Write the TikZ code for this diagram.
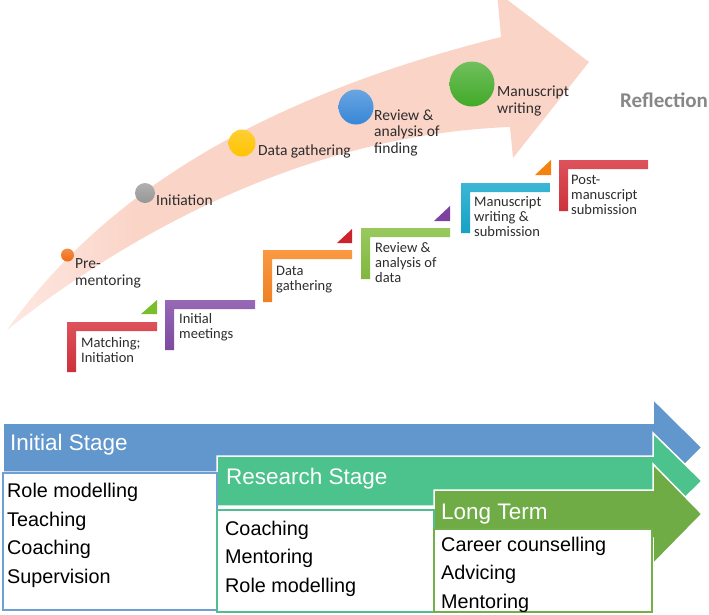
\documentclass[tikz,border=0pt]{standalone}
\usepackage{fontspec}
\setmainfont{Liberation Sans}
\newfontfamily\calfont{Carlito}
\definecolor{pinkA}{RGB}{251,212,200}
\definecolor{pinkL}{RGB}{253,232,225}
\definecolor{lblgray}{RGB}{45,45,45}
\definecolor{reflgray}{RGB}{135,135,135}
\definecolor{dotorange}{RGB}{240,105,15}
\definecolor{dotgray}{RGB}{150,150,150}
\definecolor{dotyellow}{RGB}{255,195,0}
\definecolor{dotblue}{RGB}{55,135,215}
\definecolor{dotgreen}{RGB}{65,170,40}
\definecolor{stred}{RGB}{215,52,62}
\definecolor{stpurple}{RGB}{132,78,168}
\definecolor{storange}{RGB}{250,135,35}
\definecolor{stgreen}{RGB}{135,192,65}
\definecolor{stcyan}{RGB}{25,170,205}
\definecolor{trgreen}{RGB}{120,190,45}
\definecolor{trred}{RGB}{205,35,45}
\definecolor{trpurple}{RGB}{125,65,160}
\definecolor{trorange}{RGB}{245,130,15}
\definecolor{arblue}{RGB}{97,151,204}
\definecolor{argreen}{RGB}{76,194,140}
\definecolor{arlong}{RGB}{111,172,70}
\definecolor{bxblue}{RGB}{110,160,212}
\definecolor{bxgreen}{RGB}{80,190,145}
\definecolor{bxlong}{RGB}{115,175,75}
\pgfdeclarehorizontalshading{pinkfade}{100bp}{color(0bp)=(pinkL); color(25bp)=(pinkL); color(36bp)=(pinkA); color(100bp)=(pinkA)}
\begin{document}
\begin{tikzpicture}[x=1pt,y=-1pt,
  dotnode/.style={circle, inner sep=0pt, minimum size=#1},
  toplbl/.style={font=\calfont\fontsize{15.5}{16.5}\selectfont, text=lblgray, align=left, anchor=base west, inner sep=0pt},
  steplbl/.style={font=\calfont\fontsize{14.5}{15}\selectfont, text=lblgray, align=left, anchor=base west, inner sep=0pt},
  stagetitle/.style={font=\fontsize{22.5}{25}\selectfont, text=white, anchor=base west, inner sep=0pt},
  listtxt/.style={font=\fontsize{19.8}{28.5}\selectfont, text=black, align=left, anchor=base west, inner sep=0pt},
  stagearrow/.style={fill=#1, draw=white, line width=1.5pt, line join=miter},
  listbox/.style={fill=white, draw=#1, line width=1.5pt}
]
\useasboundingbox (0,0) rectangle (709,614);
\clip (0,0) rectangle (709,614);

% curved pink arrow
\shade[shading=pinkfade] (7,330) .. controls (100,200) and (250,100) .. (501,37)
   -- (497,-8) -- (589,62) -- (513,158) -- (510,127)
   .. controls (300,135) and (120,240) .. (7,330) -- cycle;

% dots
\node[dotnode=13pt, top color=dotorange!75!white, bottom color=dotorange] (d1) at (67.5,255) {};
\node[dotnode=20pt, top color=dotgray!75!white, bottom color=dotgray] (d2) at (145,193) {};
\node[dotnode=27pt, top color=dotyellow!80!white, bottom color=dotyellow] (d3) at (242,143) {};
\node[dotnode=35pt, top color=dotblue!75!white, bottom color=dotblue] (d4) at (356,107) {};
\node[dotnode=45pt, top color=dotgreen!75!white, bottom color=dotgreen] (d5) at (472,84) {};

% labels along the arrow (anchored at the baseline of the last line)
\node[toplbl] (l1) at (75,285) {Pre-\\mentoring};
\node[toplbl] (l2) at (156,205) {Initiation};
\node[toplbl] (l3) at (258,155) {Data gathering};
\node[toplbl] (l4) at (374,153) {Review \&\\analysis of\\finding};
\node[toplbl] (l5) at (497,113) {Manuscript\\writing};
\node[font=\calfont\bfseries\fontsize{21}{23}\selectfont, text=reflgray, anchor=base west, inner sep=0pt] (refl) at (620,107) {Reflection};

% staircase
\foreach \xa/\ya/\xb/\yb/\c in {67/322/157/372/stred, 165/300/255/350/stpurple, 263/250/352/302/storange, 361/228/450/279/stgreen, 461/183/550/233/stcyan, 559/160/648/211/stred}{
  \shade[top color=\c!85!white, bottom color=\c!95!black] (\xa,\yb) -- (\xa,\ya) -- (\xb,\ya) -- (\xb,\ya+9) -- (\xa+9,\ya+9) -- (\xa+9,\yb) -- cycle;
}
\foreach \xa/\ya/\xb/\yb/\c in {141/300/157/314/trgreen, 337/229/352/243/trred, 434/206/450/221/trpurple, 535/160/551/175/trorange}{
  \fill[\c] (\xa,\yb) -- (\xb,\ya) -- (\xb,\yb) -- cycle;
}
\node[steplbl] (s1) at (81,362) {Matching;\\Initiation};
\node[steplbl] (s2) at (179,338) {Initial\\meetings};
\node[steplbl] (s3) at (276,290) {Data\\gathering};
\node[steplbl] (s4) at (375,282) {Review \&\\analysis of\\data};
\node[steplbl] (s5) at (474,236) {Manuscript\\writing \&\\submission};
\node[steplbl] (s6) at (571,214) {Post-\\manuscript\\submission};

% stage arrows
\path[stagearrow=arblue] (3,423) -- (653,423) -- (653,399) -- (702,447.5) -- (653,496) -- (653,472) -- (3,472) -- cycle;
\path[stagearrow=argreen] (217,456) -- (653,456) -- (653,433) -- (702,481) -- (653,529) -- (653,506) -- (217,506) -- cycle;
\path[stagearrow=arlong] (434,490) -- (653,490) -- (653,464) -- (702,514) -- (653,564) -- (653,538) -- (434,538) -- cycle;

% list boxes
\path[listbox=bxblue] (3,473) rectangle (217,610);
\path[listbox=bxgreen] (217,510) rectangle (434,612);
\path[listbox=bxlong] (434,529) rectangle (652,612);

\node[stagetitle] (t1) at (10,450) {Initial Stage};
\node[stagetitle] (t2) at (226,484) {Research Stage};
\node[stagetitle] (t3) at (441,519) {Long Term};

\node[listtxt] (b1) at (7,583) {Role modelling\\Teaching\\Coaching\\Supervision};
\node[listtxt] (b2) at (225,592) {Coaching\\Mentoring\\Role modelling};
\node[listtxt] (b3) at (441,608) {Career counselling\\Advicing\\Mentoring};
\end{tikzpicture}
\end{document}
